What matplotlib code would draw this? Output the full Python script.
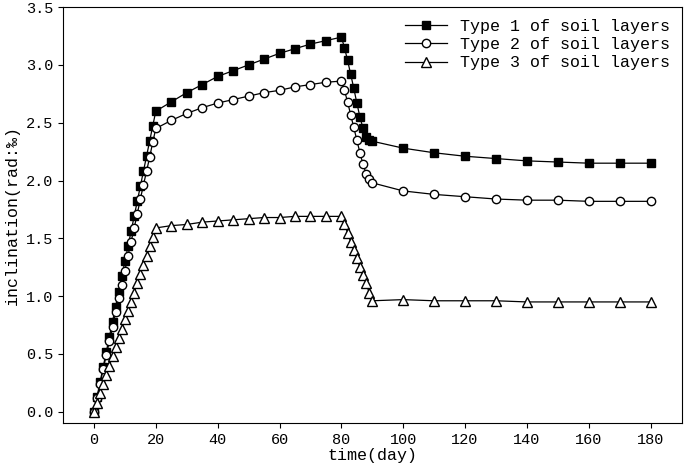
import matplotlib
matplotlib.use("Agg")
import matplotlib.pyplot as plt

plt.rcParams["font.family"] = "Liberation Mono"

days = [0, 1, 2, 3, 4, 5, 6, 7, 8, 9, 10, 11, 12, 13, 14, 15, 16, 17, 18, 19, 20,
        25, 30, 35, 40, 45, 50, 55, 60, 65, 70, 75, 80,
        81, 82, 83, 84, 85, 86, 87, 88, 89, 90,
        100, 110, 120, 130, 140, 150, 160, 170, 180]

type1 = [0.00, 0.13, 0.26, 0.39, 0.52, 0.65, 0.78, 0.91, 1.04, 1.17, 1.30, 1.43, 1.56, 1.69, 1.82, 1.95, 2.08, 2.21, 2.34, 2.47, 2.60,
         2.68, 2.76, 2.83, 2.90, 2.95, 3.00, 3.05, 3.10, 3.14, 3.18, 3.21, 3.24,
         3.15, 3.04, 2.92, 2.80, 2.67, 2.55, 2.45, 2.38, 2.35, 2.34,
         2.28, 2.24, 2.21, 2.19, 2.17, 2.16, 2.15, 2.15, 2.15]

type2 = [0.00, 0.12, 0.24, 0.37, 0.49, 0.61, 0.73, 0.86, 0.98, 1.10, 1.22, 1.35, 1.47, 1.59, 1.71, 1.84, 1.96, 2.08, 2.20, 2.33, 2.45,
         2.52, 2.58, 2.63, 2.67, 2.70, 2.73, 2.76, 2.78, 2.81, 2.83, 2.85, 2.86,
         2.78, 2.68, 2.57, 2.46, 2.35, 2.24, 2.14, 2.06, 2.01, 1.98,
         1.91, 1.88, 1.86, 1.84, 1.83, 1.83, 1.82, 1.82, 1.82]

type3 = [0.00, 0.08, 0.16, 0.24, 0.32, 0.40, 0.48, 0.56, 0.64, 0.72, 0.80, 0.87, 0.95, 1.03, 1.11, 1.19, 1.27, 1.35, 1.43, 1.51, 1.59,
         1.61, 1.62, 1.64, 1.65, 1.66, 1.67, 1.68, 1.68, 1.69, 1.69, 1.69, 1.69,
         1.62, 1.55, 1.47, 1.40, 1.33, 1.25, 1.18, 1.11, 1.03, 0.96,
         0.97, 0.96, 0.96, 0.96, 0.95, 0.95, 0.95, 0.95, 0.95]

fig, ax = plt.subplots(figsize=(6.85, 4.73), dpi=100)
ax.plot(days, type1, "-s", color="black", lw=0.9, ms=5.5, mfc="black",
        label="Type 1 of soil layers")
ax.plot(days, type2, "-o", color="black", lw=0.9, ms=6, mfc="white",
        label="Type 2 of soil layers")
ax.plot(days, type3, "-^", color="black", lw=0.9, ms=6.5, mfc="white",
        label="Type 3 of soil layers")

ax.set_xlim(-10, 190)
ax.set_ylim(-0.1, 3.5)
ax.set_xticks(range(0, 181, 20))
ax.set_yticks([i * 0.5 for i in range(8)])
ax.yaxis.set_major_formatter(matplotlib.ticker.FormatStrFormatter("%.1f"))
ax.tick_params(direction="out", labelsize=11)
ax.set_xlabel("time(day)", fontsize=12, labelpad=1)
ax.set_ylabel("inclination(rad:‰)", fontsize=12)
ax.legend(loc="upper right", frameon=False, fontsize=12, handlelength=2.5,
          borderaxespad=0.3, labelspacing=0.2)

fig.subplots_adjust(left=0.092, right=0.995, top=0.985, bottom=0.105)
fig.savefig("out.png", dpi=100)
